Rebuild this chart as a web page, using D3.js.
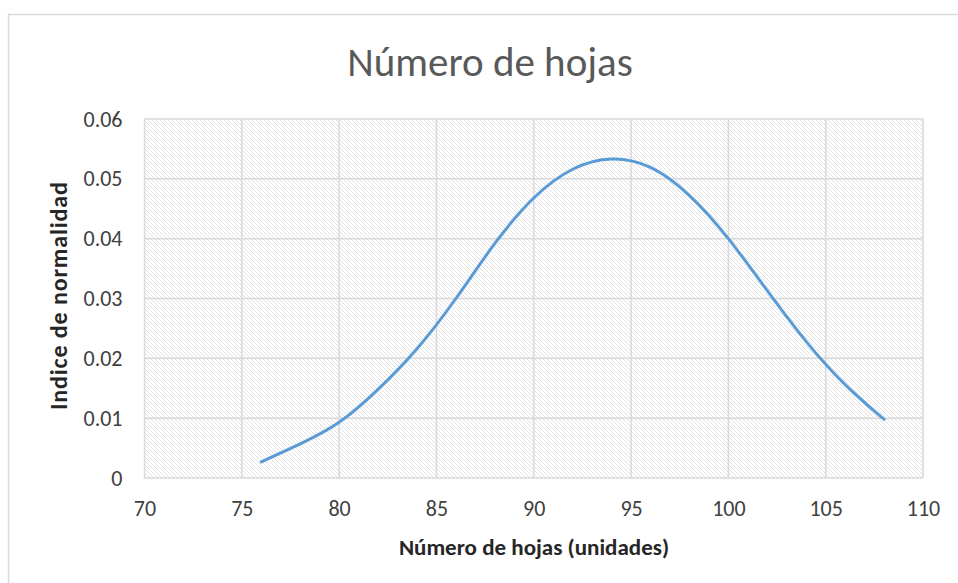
<!DOCTYPE html>
<html><head><meta charset="utf-8">
<script src="https://cdn.jsdelivr.net/npm/d3@7"></script>
<style>body{margin:0;background:#fff;} svg{display:block;}</style>
</head><body>
<script>
const leafCounts = [76, 78, 80, 82, 84, 86, 88, 90, 92, 94, 96, 98, 100, 102, 104, 106, 108];
const normality = [0.0027, 0.0057, 0.0093, 0.0148, 0.0216, 0.0300, 0.0392, 0.0468, 0.0516, 0.0533, 0.0519, 0.0472, 0.0400, 0.0313, 0.0228, 0.0156, 0.0098];
const xTicks = [70, 75, 80, 85, 90, 95, 100, 105, 110];
const yTicks = [0, 0.01, 0.02, 0.03, 0.04, 0.05, 0.06];
const title = "Número de hojas";
const xTitle = "Número de hojas (unidades)";
const yTitle = "Indice de normalidad";

const W = 958, H = 583;
const m = {left:144.5, right:923, top:119, bottom:478};
const svg = d3.select("body").append("svg").attr("width", W).attr("height", H);
const font = "Carlito, 'Open Sans', 'Liberation Sans', sans-serif";

svg.append("rect").attr("x",8.5).attr("y",14.5).attr("width",1000).attr("height",1000)
  .attr("fill","#fff").attr("stroke","#d9d9d9").attr("stroke-width",1.5);

const defs = svg.append("defs");
const pat = defs.append("pattern").attr("id","hatch").attr("patternUnits","userSpaceOnUse")
  .attr("width",4).attr("height",4);
pat.append("path").attr("d","M-1,-1 L5,5 M3,-1 L5,1 M-1,3 L1,5")
  .attr("stroke","#d6d6d6").attr("stroke-width",0.7).attr("fill","none");

const x = d3.scaleLinear().domain([70,110]).range([m.left, m.right]);
const y = d3.scaleLinear().domain([0,0.06]).range([m.bottom, m.top]);

svg.append("rect").attr("x",m.left).attr("y",m.top).attr("width",m.right-m.left).attr("height",m.bottom-m.top)
  .attr("fill","url(#hatch)");

const g = svg.append("g");
g.selectAll(".vg").data(xTicks).join("line")
  .attr("x1",d=>x(d)).attr("x2",d=>x(d)).attr("y1",m.top).attr("y2",m.bottom)
  .attr("stroke","#d9d9d9").attr("stroke-width",1.5);
g.selectAll(".hg").data(yTicks).join("line")
  .attr("y1",d=>y(d)).attr("y2",d=>y(d)).attr("x1",m.left).attr("x2",m.right)
  .attr("stroke","#d9d9d9").attr("stroke-width",1.5);

const xAxis = svg.append("g").attr("transform",`translate(0,${m.bottom})`)
  .call(d3.axisBottom(x).tickValues(xTicks).tickSize(0).tickPadding(22).tickFormat(d3.format("d")));
xAxis.select(".domain").remove();
xAxis.selectAll("text").attr("font-family",font).attr("font-size",22).attr("fill","#404040");

const yAxis = svg.append("g").attr("transform",`translate(${m.left},0)`)
  .call(d3.axisLeft(y).tickValues(yTicks).tickSize(0).tickPadding(22).tickFormat(d=>d===0?"0":d3.format(".2f")(d)));
yAxis.select(".domain").remove();
yAxis.selectAll("text").attr("font-family",font).attr("font-size",22).attr("fill","#404040");

const data = leafCounts.map((v,i)=>[v, normality[i]]);
svg.append("path").datum(data)
  .attr("d", d3.line().x(d=>x(d[0])).y(d=>y(d[1])).curve(d3.curveNatural))
  .attr("fill","none").attr("stroke","#5b9bd5").attr("stroke-width",3).attr("stroke-linecap","round");

svg.append("text").attr("x",490).attr("y",76).attr("text-anchor","middle")
  .attr("font-family",font).attr("font-size",41).attr("fill","#595959").text(title);
svg.append("text").attr("x",534).attr("y",555).attr("text-anchor","middle")
  .attr("font-family",font).attr("font-size",23).attr("font-weight","bold").attr("fill","#262626").text(xTitle);
svg.append("text").attr("transform","translate(67,296) rotate(-90)").attr("text-anchor","middle")
  .attr("font-family",font).attr("font-size",24).attr("font-weight","bold").attr("fill","#262626")
  .attr("textLength",228).attr("lengthAdjust","spacing").text(yTitle);
</script>
</body></html>
